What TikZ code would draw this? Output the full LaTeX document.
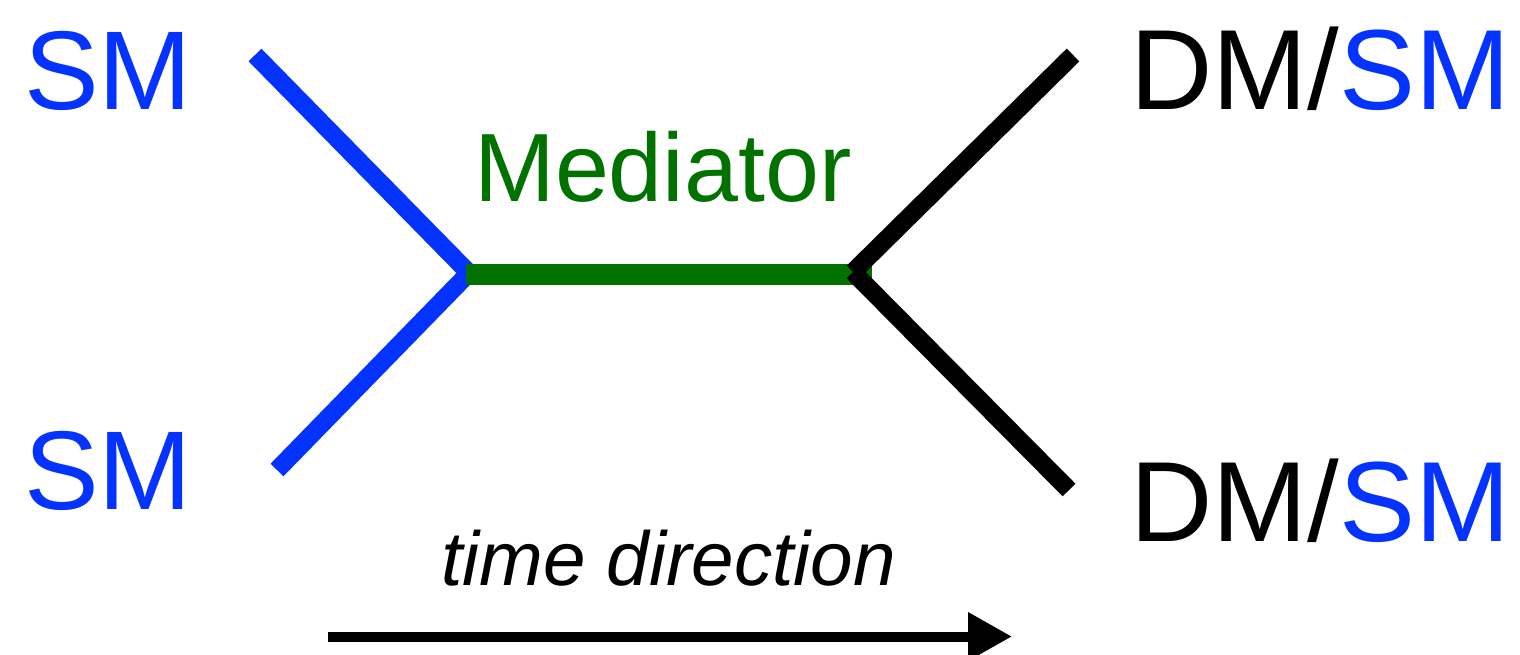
\documentclass[tikz,border=0pt]{standalone}
\usepackage{fontspec}
\setmainfont{Liberation Sans}
\usetikzlibrary{arrows.meta}
\definecolor{smblue}{RGB}{4,51,255}
\definecolor{medgreen}{RGB}{1,113,0}
\tikzset{
  lbl/.style={inner sep=0pt, anchor=base west},
  big/.style={lbl, font=\fontsize{112}{120}\selectfont},
  leg/.style={line width=18pt},
}
\begin{document}
\begin{tikzpicture}[x=1pt,y=-1pt]
\useasboundingbox (0,0) rectangle (1520,654);
% labels
\node[big, text=smblue] (sm1) at (24,109) {SM};
\node[big, text=smblue] (sm2) at (24,509) {SM};
\node[lbl, font=\fontsize{114}{120}\selectfont] (dm1) at (1130,109) {DM/\textcolor{smblue}{SM}};
\node[lbl, font=\fontsize{114}{120}\selectfont] (dm2) at (1130,541) {DM/\textcolor{smblue}{SM}};
\node[lbl, text=medgreen, font=\fontsize{97}{104}\selectfont] (med) at (474,201) {Mediator};
\node[lbl, font=\fontsize{76.5}{80}\selectfont\itshape] (time) at (441,585) {time direction};
% coordinates
\coordinate (a1) at (255,55);
\coordinate (a2) at (277,470);
\coordinate (v1) at (469,273);
\coordinate (v2) at (853,272);
\coordinate (b1) at (1073,55);
\coordinate (b2) at (1069,490);
\coordinate (g1) at (466,274.5);
\coordinate (g2) at (872,274.5);
\coordinate (t1) at (328,636.5);
\coordinate (t2) at (1012,636.5);
% lines
\draw[leg, smblue] (a1) -- (v1);
\draw[leg, smblue] (a2) -- (v1);
\draw[line width=21pt, medgreen] (g1) -- (g2);
\draw[leg, black] (b1) -- (v2);
\draw[leg, black] (b2) -- (v2);
\draw[line width=10pt, -{Triangle[length=44pt,width=46pt]}] (t1) -- (t2);
\end{tikzpicture}
\end{document}
